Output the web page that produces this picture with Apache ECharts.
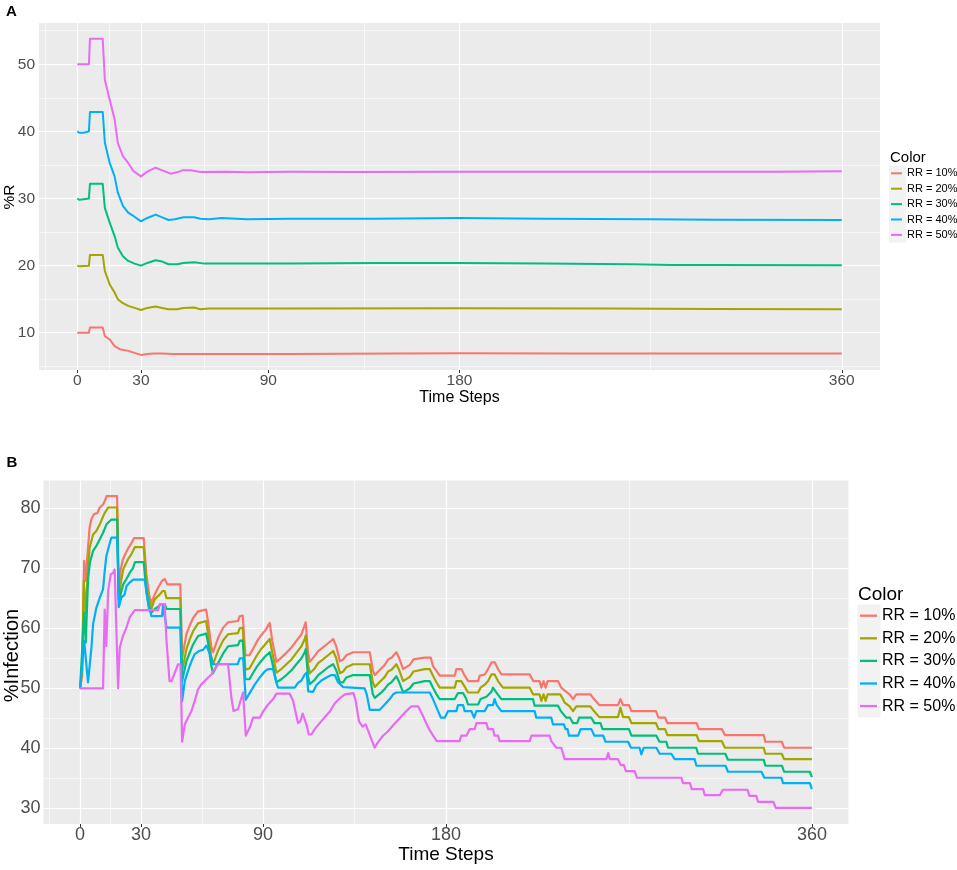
<!DOCTYPE html>
<html>
<head>
<meta charset="utf-8">
<script src="https://cdn.jsdelivr.net/npm/echarts@6/dist/echarts.min.js"></script>
<style>
html,body{margin:0;padding:0;background:#fff;}
#chart{width:957px;height:870px;}
</style>
</head>
<body>
<div id="chart"></div>
<script>
// ---------- tick labels ----------
const xTicks = [0, 30, 90, 180, 360];
const xMinor = [-15, 15, 60, 135, 270];
const yTicksA = [10, 20, 30, 40, 50];
const yMinorA = [5, 15, 25, 35, 45, 55];
const yTicksB = [30, 40, 50, 60, 70, 80];
const yMinorB = [35, 45, 55, 65, 75];

// ---------- categories ----------
const seriesNames = ['RR = 10%', 'RR = 20%', 'RR = 30%', 'RR = 40%', 'RR = 50%'];
const colors = ['#F8766D', '#A3A500', '#00BF7D', '#00B0F6', '#E76BF3'];

// ---------- Panel A : %R ----------
const a10 = [[0,10],[5.5,10],[6,10.8],[12,10.8],[13,9.5],[15.3,9],[17.6,8],[20,7.55],[24,7.3],[27,7],[30,6.7],[33,6.85],[36,6.9],[40,6.9],[45,6.85],[60,6.85],[100,6.85],[150,6.9],[180,6.95],[230,6.9],[280,6.9],[330,6.9],[360,6.9]];
const a20 = [[0,20],[1,19.9],[3,19.95],[5.5,20],[6,21.6],[12,21.6],[13,19.2],[15.3,17.2],[17.6,16],[19.1,15],[21.5,14.4],[24,14],[27,13.7],[30,13.4],[33,13.7],[36.9,13.9],[40,13.7],[43,13.5],[47,13.5],[50,13.7],[55,13.75],[58,13.5],[62,13.6],[100,13.6],[180,13.65],[250,13.6],[300,13.55],[360,13.5]];
const a30 = [[0,30],[1,29.8],[3,29.9],[5.5,30],[6,32.2],[12,32.2],[13,28.6],[15.3,26.4],[17.6,24.4],[19.1,22.7],[21.5,21.4],[24,20.7],[27,20.3],[30,20],[33,20.4],[36.9,20.8],[40,20.6],[43,20.2],[47,20.2],[50,20.4],[55,20.5],[60,20.3],[80,20.3],[100,20.3],[140,20.4],[180,20.4],[220,20.3],[260,20.2],[280,20.1],[300,20.1],[360,20.05]];
const a40 = [[0,40],[1,39.8],[3,39.8],[5.5,40],[6,42.9],[12,42.9],[13,38.3],[15.3,35.3],[17.6,33.3],[19.1,30.9],[21.5,28.9],[24,27.9],[26,27.5],[30,26.6],[33,27.1],[36.9,27.6],[40,27.2],[43,26.8],[46,26.9],[50,27.2],[55,27.2],[58,27],[62,26.9],[68,27.1],[75,27],[80,26.9],[100,27],[140,27],[180,27.1],[220,27],[270,26.9],[300,26.85],[360,26.8]];
const a50 = [[0,50],[5.5,50],[6,53.8],[12,53.8],[13,47.7],[15.3,44.7],[17.6,41.8],[19.1,38.3],[21.5,36.3],[24,35.3],[26.4,34.1],[30,33.3],[33,34],[36.9,34.6],[40,34.2],[44,33.7],[47,33.9],[49.6,34.2],[53.5,34.2],[58,33.95],[70,34],[80,33.9],[100,34],[130,33.95],[180,34],[230,34],[270,34],[300,34],[330,34],[360,34.05]];

// ---------- Panel B : %Infection ----------
const b10 = [[0,50],[1,52],[2,71.2],[2.8,67.9],[3.8,73],[4.7,76.8],[5.5,78.1],[6.8,79],[8.5,79.2],[9.7,80.1],[11.3,80.6],[12.3,81.3],[13,82],[18.2,82],[19,66.5],[20,69.8],[21,71.4],[22,72.2],[23.5,73.2],[25,74],[26.5,75],[31.3,75],[32.6,69],[34,65.5],[35,64.2],[36.7,65.6],[38.3,66.7],[40.3,67.9],[41.6,68.2],[42.9,67.3],[49.3,67.3],[50.2,55],[52.3,59],[54,60.5],[55.6,61.7],[58,62.8],[62,63.1],[63,61],[64.5,57],[65.4,56],[67.9,58.4],[70.4,60.1],[72.8,61],[77.7,61.2],[78.5,62],[80,62.1],[81.3,55.5],[83.3,55.5],[85,56.5],[87,57.8],[89,58.8],[91,59.6],[93.3,60.9],[94.5,58],[96.6,54.4],[99,55.1],[101.5,55.9],[104,56.8],[106.4,57.9],[108.9,59],[110.5,60.5],[111,61],[112.1,56],[113,54.4],[115.4,55.4],[117.1,56.2],[119.5,56.8],[122,57.5],[124.5,58.2],[126,57],[127.8,54.5],[129.4,54.8],[131,55.5],[134.3,56],[142.5,56],[144,53],[145,52.2],[147.5,53.1],[149.9,53.9],[151.5,54.8],[153.2,55.1],[155.6,56],[157,55],[158.9,53.2],[162.2,53.9],[164,54.8],[169.5,55.1],[172.5,55.1],[173.6,53.7],[175.3,52.9],[176.9,52.1],[184.3,52.1],[185.1,53.2],[187.6,53.2],[189.2,52.1],[190.9,51.2],[195.8,51.2],[196.6,52.1],[199.1,52.3],[200.7,53.2],[202.4,54.3],[204,54.3],[205.6,53.2],[207.3,52.3],[221.2,52.3],[222.9,51.2],[226,51.2],[226.9,50.1],[228,51.2],[229,50.1],[230,51.2],[235.1,51.2],[236.7,50.1],[238.4,49.6],[240.8,49],[242.5,48.2],[244.1,49],[251,49],[252.8,48.2],[255.4,47.2],[264.6,47.2],[265.8,48.2],[267.1,47.2],[270,47.2],[271.2,46.2],[283.3,46.2],[284.5,45.1],[287.8,45.1],[288.9,44.2],[303.3,44.2],[304.4,43.2],[315.7,43.2],[317.2,42.2],[336.3,42.2],[337.1,41.1],[345.2,41.1],[346.3,40.1],[360,40.1]];
const b20 = [[0,50],[1,53],[1.8,67.9],[2.8,62.4],[3.9,70.1],[4.7,73.4],[6.4,75.6],[8,76.2],[9.7,77.3],[11.8,79],[13.8,80.1],[18.2,80.1],[19,64.8],[20,67.5],[21.2,69.8],[23.6,71.5],[25.2,72.3],[26.9,73.5],[31.3,73.5],[32.6,67.3],[35,63.2],[36.7,64.8],[39.1,65.6],[40.6,66.2],[41.6,66.2],[42.5,65],[49.3,65],[50.2,52.9],[52.3,56.5],[54,58.2],[55.6,59.5],[58,60.8],[62,61.2],[63,59],[64.5,55.3],[65.4,54],[67.9,56.3],[70.4,58],[72.8,59],[77.7,59.2],[78.5,60],[80,60.1],[81.3,53.1],[83.3,53.3],[85,54.3],[87,55.5],[89,56.5],[91,57.3],[93.3,58.2],[94.5,56],[96.6,52.6],[99,53.2],[101.5,54],[104,54.8],[106.4,55.9],[108.9,57],[110.5,58.2],[111,58.8],[112.1,54],[113,52.5],[115.4,53.3],[117.1,54.2],[119.5,54.8],[122,55.5],[124.5,56.2],[126,55],[127.8,52.5],[129.4,52.8],[131,53.5],[134.3,54],[142.5,54],[144,51],[145,50.2],[147.5,51.1],[149.9,51.9],[151.5,52.8],[153.2,53.1],[155.6,54],[157,53],[158.9,51.2],[162.2,51.9],[164,52.8],[169.5,53.2],[172,53.2],[173.6,52.1],[175.3,51],[176.9,50.1],[184.3,50.1],[185.1,51.2],[187.5,51.2],[189.5,50.1],[190.8,49.3],[195.8,49.3],[197,50.1],[199.1,50.6],[200.7,51.2],[202.3,52.3],[203.9,52.3],[205.6,51.2],[208,50.1],[221.2,50.1],[222.8,49],[226,49],[226.9,47.9],[228,49],[229,47.9],[230,49],[236.2,49],[237.5,48.2],[238.4,47.6],[240.8,47],[242.5,46.2],[244.1,47],[251,47],[252.8,46.2],[255.4,45.2],[264.6,45.2],[265.8,46.8],[267.1,45.2],[270,45.2],[271.2,44.2],[283.3,44.2],[284.5,43.2],[287.8,43.2],[288.9,42.2],[303.3,42.2],[304.4,41.2],[315.7,41.2],[317.2,40.1],[336.3,40.1],[337.1,39.1],[345.2,39.1],[346.3,38.2],[360,38.2]];
const b30 = [[0,50],[2,62.6],[2.8,57.6],[3.9,68.1],[4.8,70.9],[6.4,72.9],[8,73.7],[9.7,74.8],[11.3,75.9],[13,77.3],[15.4,78.1],[18.3,78.1],[19,63.5],[20,65.8],[21.2,67.3],[22.8,68.2],[24.4,69.2],[26,70],[27,71],[31.3,71],[32.6,66],[34,63],[35,62.6],[36.7,63.2],[38.5,63.6],[39.5,64],[41.6,64],[42.5,63.2],[49.3,63.2],[50.2,51.2],[52.3,54.5],[54,56],[55.6,57.3],[58,58.7],[62,59.1],[63,57.5],[64.5,53.8],[65.4,52.5],[67.9,54.2],[70.4,55.8],[72.8,57],[77.7,57.2],[78.5,57.9],[80,58],[81.3,51.5],[83.3,51.5],[85,52.5],[87,53.6],[89,54.5],[91,55.3],[93.3,56],[94.5,54.3],[96.6,51],[99,51.5],[101.5,52.2],[104,53],[106.4,54],[108.9,55],[110.5,56],[111,56.5],[112.1,52],[113,50.7],[115.4,51.4],[117.1,52.2],[119.5,52.8],[122,53.5],[124.5,54],[126,53],[127.8,51],[129.4,51],[131,51.8],[134.3,52.2],[142.5,52.2],[144,49],[145,48.4],[147.5,49.1],[149.9,49.9],[151.5,50.6],[153.2,51],[155.6,52],[157,51],[158.9,49.3],[162.2,50],[164,50.8],[169.5,51.2],[172,51.2],[173.6,50.1],[175.3,49],[176.9,48.2],[184.3,48.2],[185.9,49.2],[188.4,49.2],[190,48.2],[190.8,47.3],[195.8,47.3],[197,48.2],[199.9,48.6],[202.3,49.4],[203.1,50.1],[205,49.2],[207.2,48.2],[222.8,48.2],[223.6,47.1],[235.1,47.1],[236.5,46.2],[239.2,45.1],[241,45.1],[242.5,44.2],[244.5,44.2],[245.5,45.1],[251.5,45.1],[253,44.2],[256,44.2],[257,43.2],[270,43.2],[271.2,42.1],[283.5,42.1],[285,41.1],[288.4,41.1],[289.2,40.1],[303.1,40.1],[304,39.1],[317.4,39.1],[318.7,38.1],[336.3,38.1],[337.1,37.1],[345.3,37.1],[346.3,36.1],[359,36.1],[360,35.2]];
const b40 = [[0,50],[2,57.9],[3.9,51],[5.6,56.8],[6.4,60.7],[8,63.4],[9.7,65.1],[11.3,66.5],[12.1,69.5],[12.9,72],[14.6,74.2],[15.4,75.1],[18.2,75.1],[19.2,63.7],[20.3,65.1],[21.9,65.6],[22.8,67],[24.4,67.6],[26.1,68.1],[31.8,68.1],[33.4,64.5],[35.1,62],[40.3,62],[40.8,63.9],[41.6,63.9],[42.5,60.1],[49.3,60.1],[50.2,47.9],[51.5,51.2],[53.1,52.9],[54.8,54.5],[56.4,55.7],[58.4,56.2],[60.5,56.4],[62.1,57.1],[64.6,55.1],[65.4,54],[77.5,54],[78.6,55],[80.2,55],[81.5,48.1],[83.4,49.2],[85.9,50.6],[88.4,51.8],[90.8,52.8],[92.5,53.2],[94.9,53.2],[96.5,51],[97.4,50.1],[105.6,50.1],[107.2,50.9],[108.9,51.3],[110.5,52.3],[111.5,52.6],[112.2,49.5],[114.6,49.4],[116.2,50.5],[118.7,51.3],[121.2,51.8],[123.6,52.2],[125.3,52.2],[126.9,51],[129.4,50.2],[140,50],[141,49],[142.5,46.4],[147.3,46.4],[149.9,47.3],[152.3,48.2],[154,49],[155.6,49.3],[172,49.3],[173.6,48.2],[176.1,46.2],[177.5,45.1],[179.4,45.1],[181,46.2],[185.1,46.2],[185.9,47.2],[188.4,47.2],[189.2,46.2],[192.5,46.2],[193.8,45.1],[195,46.2],[199,46.2],[200.7,47.2],[203.1,47.2],[203.9,48.2],[205,47.2],[207.2,46.2],[223.6,46.2],[224.4,45.1],[231.8,45.1],[232.6,44],[238,44],[238.8,43.2],[239.8,43.2],[240.5,42.1],[245,42.1],[246.2,43.2],[251.5,43.2],[253,42.1],[257.3,42.1],[258.5,41.1],[269.6,41.1],[271,40.1],[275.2,40.1],[276.1,39],[277.3,40.1],[283.5,40.1],[285.1,39.1],[290.8,39.1],[292.5,38.2],[302.3,38.2],[303.2,37.1],[317.5,37.1],[318.7,36.1],[335.2,36.1],[336.6,35.1],[345,35.1],[345.8,34.2],[359,34.2],[360,33.2]];
const b50 = [[0,50],[11.3,50],[12.1,63.1],[12.9,57],[13.8,66.2],[15.1,69],[16.2,69.2],[17,69.8],[17.9,70.1],[18.7,50],[19.5,56.8],[21.1,58.7],[22.8,60.1],[24.4,61.8],[25.2,62.1],[26.9,63],[38.4,63],[39.2,64],[41.6,64],[42.5,58],[44,51.2],[45,51.2],[46.5,52.5],[48.2,54],[49.4,54],[50.2,41.1],[51.5,44],[53.1,45.1],[54.8,46.2],[56.4,47.9],[58,49.8],[59.7,50.7],[61.3,51.2],[63,51.8],[64.6,52.3],[66.2,53.2],[67.9,54],[72.8,54],[74.4,48.5],[75.5,46.2],[77.7,46.5],[79,48],[80.2,49.3],[81.5,42.1],[83.5,43.5],[85.1,45.1],[88.4,45.1],[90,46.1],[92.5,47.3],[95,48.2],[96.6,49.1],[103.1,49.1],[104.7,48],[107.2,44.2],[108.3,44.5],[109.5,45.8],[110.3,46],[111.3,44],[112.5,42.3],[113.8,42.3],[115.4,43.2],[117.9,44.2],[120.4,45.2],[122.8,46.1],[125.3,47.5],[127.7,48.3],[130.2,49],[134.5,49.2],[135.5,48],[137.2,44.5],[139,43.6],[140.5,44],[142.2,42.5],[144.9,40.1],[146.5,41],[149,42.1],[151.4,42.8],[153.9,43.8],[157.2,45],[160.5,46.2],[163,47],[166.3,47],[168.5,45.5],[171.2,43.5],[173.5,42.2],[175.5,41.2],[186.7,41.2],[187.5,42.1],[190,42.1],[191.7,43.2],[194.1,43.2],[195,44.2],[199.9,44.2],[200.7,43.2],[203.1,43.2],[203.9,42.1],[205.6,42.1],[206.4,41.2],[221.2,41.2],[222,42.1],[231,42.1],[231.8,41.2],[232.6,41.2],[234.3,40.1],[236.7,40.1],[238.4,38.2],[258.9,38.2],[259.8,39.2],[260.6,38.2],[264.6,38.2],[266,37.2],[267.5,37.2],[268.5,36.2],[272.8,36.2],[274,35.1],[295.8,35.1],[296.6,34.2],[300,34.2],[300.9,33.2],[306.5,33.2],[307.3,32.2],[314.7,32.2],[316.2,33.1],[328.3,33.1],[329.3,32.1],[332.6,32.1],[333.5,31.1],[341,31.1],[342.2,30.1],[360,30.1]];

const panelA = [a10, a20, a30, a40, a50];
const panelB = [b10, b20, b30, b40, b50];

// ---------- build option ----------
const FONT = '"Liberation Sans", Arial, sans-serif';

function gridSeries(gi, yMaj, yMin) {
  const major = {color: '#FFFFFF', width: 1.2, type: 'solid'};
  const minor = {color: '#FFFFFF', width: 0.6, type: 'solid'};
  const d = [];
  xMinor.forEach(v => d.push({xAxis: v, lineStyle: minor}));
  yMin.forEach(v => d.push({yAxis: v, lineStyle: minor}));
  xTicks.forEach(v => d.push({xAxis: v, lineStyle: major}));
  yMaj.forEach(v => d.push({yAxis: v, lineStyle: major}));
  return {
    type: 'line', xAxisIndex: gi, yAxisIndex: gi, data: [[0, yMaj[0]]],
    showSymbol: false, silent: true, z: 1, lineStyle: {opacity: 0}, itemStyle: {opacity: 0},
    markLine: {
      silent: true, animation: false, symbol: ['none', 'none'], z: 1,
      label: {show: false}, emphasis: {disabled: true}, data: d
    }
  };
}

function dataSeries(gi, arr, idx, w) {
  return {
    name: seriesNames[idx], type: 'line', xAxisIndex: gi, yAxisIndex: gi,
    data: arr, showSymbol: false, symbol: 'none', z: 3, clip: true,
    lineStyle: {color: colors[idx], width: w, join: 'round'},
    itemStyle: {color: colors[idx]},
    emphasis: {disabled: true}
  };
}

function xAxisDef(gi, fs, margin, nameFs, nameGap) {
  return {
    gridIndex: gi, type: 'value', min: -18, max: 378,
    axisLine: {show: false},
    axisTick: {show: true, customValues: xTicks, length: 3, lineStyle: {color: '#333333', width: 1}},
    axisLabel: {customValues: xTicks, margin: margin, fontSize: fs, color: '#4D4D4D', fontFamily: FONT},
    splitLine: {show: false},
    name: 'Time Steps', nameLocation: 'middle', nameGap: nameGap,
    nameTextStyle: {fontSize: nameFs, color: '#000000', fontFamily: FONT}
  };
}

function yAxisDef(gi, min, max, ticks, fs, margin) {
  return {
    gridIndex: gi, type: 'value', min: min, max: max,
    axisLine: {show: false},
    axisTick: {show: true, customValues: ticks, length: 3, lineStyle: {color: '#333333', width: 1}},
    axisLabel: {customValues: ticks, margin: margin, fontSize: fs, color: '#4D4D4D', fontFamily: FONT},
    splitLine: {show: false}
  };
}

const series = [gridSeries(0, yTicksA, yMinorA), gridSeries(1, yTicksB, yMinorB)];
panelA.forEach((arr, i) => series.push(dataSeries(0, arr, i, 2)));
panelB.forEach((arr, i) => series.push(dataSeries(1, arr, i, 2.2)));

const option = {
  animation: false,
  backgroundColor: '#FFFFFF',
  textStyle: {fontFamily: FONT},
  grid: [
    {left: 39, top: 23, width: 841, height: 347, show: true, backgroundColor: '#EBEBEB', borderWidth: 0,
     containLabel: false, outerBoundsMode: 'none'},
    {left: 43.5, top: 480.5, width: 805, height: 343.5, show: true, backgroundColor: '#EBEBEB', borderWidth: 0,
     containLabel: false, outerBoundsMode: 'none'}
  ],
  xAxis: [xAxisDef(0, 15.5, 3, 16, 17), xAxisDef(1, 18, 2, 19, 17)],
  yAxis: [
    yAxisDef(0, 4.45, 56.15, yTicksA, 15.5, 4),
    yAxisDef(1, 27.4, 84.6, yTicksB, 18, 3)
  ],
  legend: [
    {data: seriesNames, orient: 'vertical', left: 891, top: 165.6, itemWidth: 11, itemHeight: 2,
     itemGap: 0, icon: 'rect', selectedMode: false, padding: 0,
     textStyle: {fontSize: 11, lineHeight: 15.4, color: '#000000', fontFamily: FONT}},
    {data: seriesNames, orient: 'vertical', left: 860, top: 604.4, itemWidth: 17, itemHeight: 2.3,
     itemGap: 0, icon: 'rect', selectedMode: false, padding: 0,
     textStyle: {fontSize: 16, lineHeight: 22.6, color: '#000000', fontFamily: FONT}}
  ],
  graphic: [
    {type: 'rect', z: 0, shape: {x: 889, y: 165.6, width: 17, height: 77}, style: {fill: '#F2F2F2'}},
    {type: 'rect', z: 0, shape: {x: 857.5, y: 604.4, width: 23, height: 113}, style: {fill: '#F2F2F2'}},
    {type: 'text', x: 6, y: 11.5, style: {text: 'A', fontSize: 15, fontWeight: 'bold', fill: '#000', fontFamily: FONT, verticalAlign: 'middle'}},
    {type: 'text', x: 6.5, y: 463.3, style: {text: 'B', fontSize: 15, fontWeight: 'bold', fill: '#000', fontFamily: FONT, verticalAlign: 'middle'}},
    {type: 'text', x: 890, y: 158, style: {text: 'Color', fontSize: 15, fill: '#000', fontFamily: FONT, verticalAlign: 'middle'}},
    {type: 'text', x: 858, y: 595, style: {text: 'Color', fontSize: 19, fill: '#000', fontFamily: FONT, verticalAlign: 'middle'}},
    {type: 'text', x: 10, y: 197, rotation: Math.PI / 2,
     style: {text: '%R', fontSize: 15.5, fill: '#000', fontFamily: FONT, align: 'center', verticalAlign: 'middle'}},
    {type: 'text', x: 12, y: 655.5, rotation: Math.PI / 2,
     style: {text: '%Infection', fontSize: 20, fill: '#000', fontFamily: FONT, align: 'center', verticalAlign: 'middle'}}
  ],
  series: series
};

const chart = echarts.init(document.getElementById('chart'), null, {renderer: 'canvas'});
chart.setOption(option);
</script>
</body>
</html>
